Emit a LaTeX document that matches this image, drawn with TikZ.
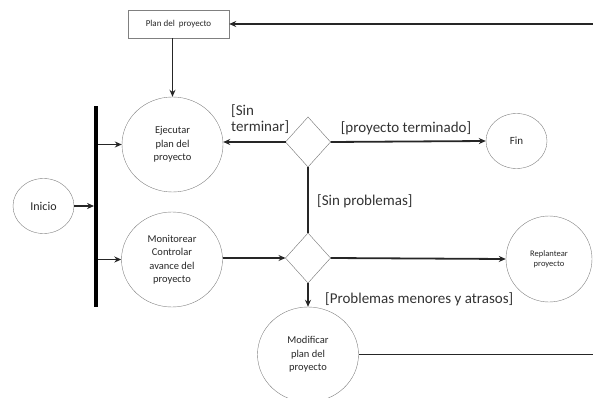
\documentclass[tikz,border=0pt]{standalone}
\usepackage{fontspec}
\setmainfont{Carlito}
\usetikzlibrary{shapes.geometric,arrows.meta}

\begin{document}
\begin{tikzpicture}[x=1pt,y=-1pt,
  estado/.style={ellipse,draw=black!50,inner sep=0pt,align=center,text=black!85,
    minimum width=101pt,minimum height=95pt,font=\fontsize{10.5}{13.5}\selectfont},
  decision/.style={diamond,draw=black!55,minimum width=45pt,minimum height=50pt,inner sep=0pt,outer sep=0pt},
  flecha/.style={line width=1.8pt,black!85,-{Stealth[length=7pt,width=6pt]}},
  linea/.style={line width=1.8pt,black!85},
  guarda/.style={font=\fontsize{15}{16.5}\selectfont,text=black!80,inner sep=0pt,align=left}]
  \clip (0,0) rectangle (593,398);
  % nodos
  \node[draw=black!50,minimum width=101pt,minimum height=28pt,inner sep=0pt,
        text=black!85,font=\fontsize{9}{10}\selectfont] (plan) at (178.5,24) {Plan del\ \ proyecto};
  \node[estado] (ejecutar) at (172.5,144.5) {Ejecutar\\plan del\\proyecto};
  \node[estado] (monitorear) at (172,259.5) {Monitorear\\Controlar\\avance del\\proyecto};
  \node[estado,minimum width=61pt,minimum height=55pt,font=\fontsize{12}{14}\selectfont] (inicio) at (43.5,206) {Inicio};
  \node[fill=black,minimum width=3.5pt,minimum height=201pt,inner sep=0pt] (barra) at (96,206.5) {};
  \node[decision] (dec1) at (308,142) {};
  \node[decision] (dec2) at (308,258) {};
  \node[estado,minimum width=61pt,minimum height=55pt,font=\fontsize{11}{13}\selectfont] (fin) at (516.5,141) {Fin};
  \node[estado,minimum width=86pt,minimum height=86pt,font=\fontsize{8.5}{10.5}\selectfont] (replantear) at (549,259) {Replantear\\proyecto};
  \node[estado] (modificar) at (308,354.5) {Modificar\\plan del\\proyecto};
  \coordinate (retornoA) at (600,354.5);
  \coordinate (retornoB) at (600,24);
  % conectores
  \draw[flecha] (ejecutar.north |- plan.south) -- (ejecutar.north);
  \draw[flecha] (barra.east |- ejecutar.west) -- (ejecutar.west);
  \draw[flecha] (barra.east |- monitorear.west) -- (monitorear.west);
  \draw[flecha] (inicio.east) -- (inicio.east -| barra.west);
  \draw[flecha] (dec1.west) -- (dec1.west -| ejecutar.east);
  \draw[flecha] (dec1.east) -- (fin.west);
  \draw[linea] (dec1.south) -- (dec2.north);
  \draw[flecha] (monitorear.east |- dec2.west) -- (dec2.west);
  \draw[flecha] (dec2.east) -- (replantear.west);
  \draw[flecha] (dec2.south) -- (modificar.north);
  \draw[linea] (modificar.east) -- (retornoA);
  \draw[flecha] (retornoB) -- (plan.east);
  % guardas
  \node[guarda,anchor=west] (g1) at (231,119) {[Sin\\terminar]};
  \node[guarda] (g2) at (406,128) {[proyecto terminado]};
  \node[guarda,anchor=west] (g3) at (317,201) {[Sin problemas]};
  \node[guarda,anchor=west] (g4) at (325,299) {[Problemas menores y atrasos]};
\end{tikzpicture}
\end{document}
